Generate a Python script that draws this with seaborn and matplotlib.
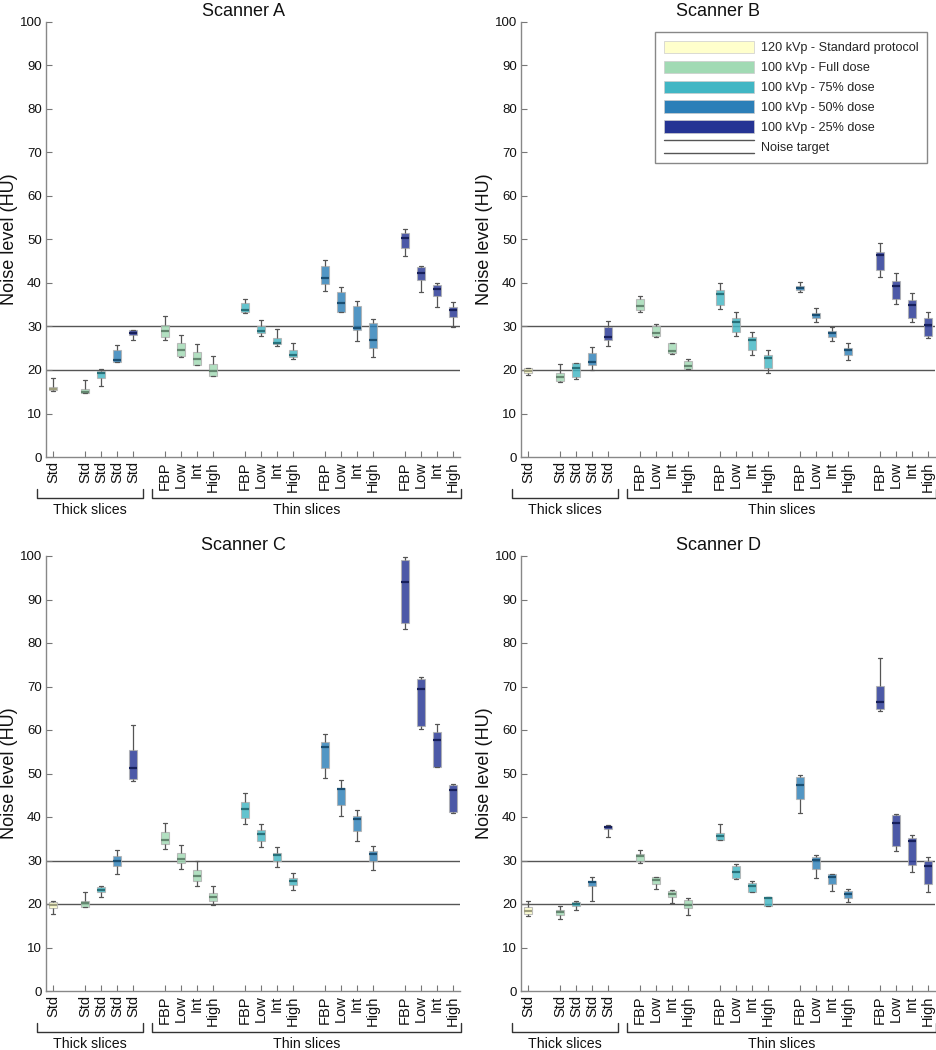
"""Noise level per scanner, protocol and reconstruction, as box plots."""
import matplotlib

matplotlib.use("Agg")
import matplotlib.colors as mcolors
import matplotlib.pyplot as plt
import matplotlib.transforms as mtransforms
import pandas as pd
import seaborn as sns
from matplotlib.legend_handler import HandlerBase
from matplotlib.lines import Line2D
from matplotlib.patches import Patch

# box positions on the x axis (gaps separate the groups)
positions = [0, 2, 3, 4, 5, 7, 8, 9, 10, 12, 13, 14, 15,
             17, 18, 19, 20, 22, 23, 24, 25]
tick_labels = ["Std", "Std", "Std", "Std", "Std",
               "FBP", "Low", "Int", "High", "FBP", "Low", "Int", "High",
               "FBP", "Low", "Int", "High", "FBP", "Low", "Int", "High"]
# dose group index of every box
box_groups = [0, 1, 2, 3, 4, 1, 1, 1, 1, 2, 2, 2, 2,
              3, 3, 3, 3, 4, 4, 4, 4]

dose_labels = ["120 kVp - Standard protocol", "100 kVp - Full dose",
               "100 kVp - 75% dose", "100 kVp - 50% dose",
               "100 kVp - 25% dose"]
dose_colors = ["#FFFFCC", "#A1DAB4", "#41B6C4", "#2C7FB8", "#253494"]

noise_targets = [20, 30]

# five-number summary per box: min, q1, median, q3, max
scanner_a = [
    (15.2, 15.3, 15.6, 16.2, 18.1), (14.8, 14.8, 15.0, 15.7, 17.7),
    (16.3, 18.2, 19.2, 19.8, 20.3), (21.8, 21.8, 22.2, 24.6, 25.7),
    (26.9, 28.1, 28.6, 29.2, 29.3), (26.8, 27.6, 28.9, 30.4, 32.5),
    (22.9, 23.2, 24.7, 26.2, 28.0), (21.1, 21.1, 22.6, 24.1, 26.0),
    (18.7, 18.7, 19.8, 21.3, 23.2), (33.0, 33.4, 33.7, 35.4, 36.4),
    (27.9, 28.5, 29.0, 30.2, 31.5), (25.6, 25.9, 26.3, 27.4, 29.5),
    (22.5, 23.0, 23.4, 24.7, 26.3), (38.2, 39.8, 41.2, 44.0, 45.4),
    (33.4, 33.4, 35.5, 37.9, 39.0), (26.6, 29.1, 29.7, 34.8, 35.8),
    (23.0, 25.0, 26.9, 30.7, 31.8), (46.2, 48.0, 50.3, 51.4, 52.3),
    (38.0, 40.6, 42.4, 43.6, 43.9), (34.4, 36.9, 38.6, 39.6, 39.9),
    (29.9, 32.2, 33.7, 34.5, 35.6),
]
scanner_b = [
    (18.8, 19.2, 19.7, 20.4, 20.5), (17.3, 17.5, 18.5, 19.4, 21.3),
    (18.0, 18.4, 20.5, 21.7, 21.7), (20.0, 21.2, 21.9, 24.0, 25.3),
    (25.6, 26.8, 27.5, 29.9, 31.3), (33.4, 33.7, 34.7, 36.4, 36.9),
    (27.6, 27.8, 28.5, 30.1, 30.5), (23.7, 23.9, 24.4, 26.1, 26.2),
    (20.2, 20.2, 20.9, 22.1, 22.6), (34.0, 35.0, 37.5, 38.3, 39.9),
    (27.8, 28.7, 31.0, 32.0, 33.3), (23.5, 24.6, 26.8, 27.6, 28.8),
    (19.4, 20.5, 22.7, 23.5, 24.5), (37.9, 38.3, 38.9, 39.4, 40.2),
    (31.1, 32.0, 32.6, 33.1, 34.2), (26.6, 27.6, 28.4, 29.0, 29.9),
    (22.4, 23.5, 24.5, 25.1, 26.3), (41.4, 43.0, 46.4, 47.1, 49.1),
    (35.2, 36.3, 39.4, 40.4, 42.2), (31.1, 32.0, 34.9, 36.0, 37.7),
    (27.4, 27.9, 30.3, 32.0, 33.4),
]
scanner_c = [
    (17.8, 19.1, 19.8, 20.4, 20.8), (19.2, 19.3, 20.2, 20.8, 22.7),
    (21.7, 22.7, 23.3, 23.9, 24.1), (26.9, 28.8, 30.0, 31.1, 32.3),
    (48.3, 48.8, 51.2, 55.4, 61.2), (32.6, 33.8, 34.8, 36.6, 38.6),
    (28.1, 29.5, 30.4, 31.8, 33.6), (24.2, 25.2, 26.4, 27.8, 29.8),
    (19.7, 20.6, 21.6, 22.5, 24.2), (38.4, 39.8, 41.9, 43.5, 45.6),
    (33.0, 34.5, 36.2, 37.0, 38.5), (28.5, 29.8, 31.3, 31.8, 33.2),
    (23.2, 24.3, 25.2, 26.0, 27.2), (48.9, 51.2, 56.0, 57.3, 59.1),
    (40.2, 42.7, 46.4, 46.7, 48.4), (34.4, 36.7, 39.5, 40.2, 41.6),
    (27.9, 29.8, 31.6, 32.2, 33.3), (83.2, 84.5, 94.0, 99.1, 99.8),
    (60.3, 60.9, 69.4, 71.8, 72.1), (51.4, 51.6, 57.8, 59.5, 61.4),
    (41.0, 41.2, 46.2, 47.3, 47.5),
]
scanner_d = [
    (17.2, 17.8, 18.5, 19.2, 20.8), (16.6, 17.5, 18.1, 18.7, 19.5),
    (18.7, 19.5, 20.1, 20.5, 20.6), (20.8, 24.1, 25.0, 25.3, 26.1),
    (35.4, 37.2, 37.7, 37.9, 38.1), (29.5, 30.0, 31.0, 31.6, 32.5),
    (23.5, 24.7, 25.5, 26.1, 26.2), (20.2, 21.6, 22.4, 23.0, 23.3),
    (17.5, 19.0, 19.8, 21.0, 21.4), (34.6, 34.6, 35.6, 36.4, 38.5),
    (25.8, 26.0, 27.3, 28.7, 29.2), (22.8, 22.8, 24.1, 24.8, 25.2),
    (19.6, 19.6, 21.4, 21.6, 21.7), (41.0, 44.1, 47.4, 49.1, 49.6),
    (25.9, 28.1, 30.2, 30.8, 31.2), (22.9, 24.7, 26.2, 26.8, 27.0),
    (20.5, 21.4, 22.3, 22.9, 23.4), (64.4, 64.9, 66.5, 70.2, 76.6),
    (32.1, 33.3, 38.7, 40.4, 40.6), (27.4, 28.9, 34.4, 35.2, 35.8),
    (22.7, 24.5, 28.8, 29.8, 30.8),
]
scanners = {"Scanner A": scanner_a, "Scanner B": scanner_b,
            "Scanner C": scanner_c, "Scanner D": scanner_d}


class TwoLineHandler(HandlerBase):
    """Legend key drawn as two horizontal lines (the two noise targets)."""

    def create_artists(self, legend, orig_handle, xdescent, ydescent,
                       width, height, fontsize, trans):
        x0, y0 = -xdescent, -ydescent
        return [Line2D([x0, x0 + width], [y, y], color=orig_handle.get_color(),
                       lw=orig_handle.get_linewidth(), transform=trans)
                for y in (y0, y0 + height)]


def long_table(summaries):
    rows = []
    for pos, grp, stats in zip(positions, box_groups, summaries):
        for v in stats:
            rows.append({"pos": pos, "group": grp, "noise": v})
    return pd.DataFrame(rows)


def bracket(ax, x0, x1, label):
    trans = mtransforms.blended_transform_factory(ax.transData, ax.transAxes)
    ax.plot([x0, x0, x1, x1], [-0.073, -0.095, -0.095, -0.073],
            transform=trans, clip_on=False, color="#333333", lw=1.0)
    ax.text((x0 + x1) / 2, -0.122, label, transform=trans, ha="center",
            va="center", fontsize=10.2, color="#111111")


def main():
    sns.set_style("ticks")
    plt.rcParams["font.family"] = ["Liberation Sans", "DejaVu Sans"]
    plt.rcParams["xtick.direction"] = "in"
    plt.rcParams["ytick.direction"] = "in"

    fig = plt.figure(figsize=(9.36, 10.5), dpi=100)
    lefts = [46 / 936, 521 / 936]
    bottoms = [1 - 457 / 1050, 1 - 991 / 1050]
    w, h = 414 / 936, 435 / 1050

    for i, (name, summaries) in enumerate(scanners.items()):
        ax = fig.add_axes([lefts[i % 2], bottoms[i // 2], w, h])
        df = long_table(summaries)

        for y in noise_targets:
            ax.axhline(y, color="#555555", lw=1.0, zorder=0.5)

        for g, col in enumerate(dose_colors):
            sub = df[df["group"] == g]
            dark = tuple(c * 0.62 for c in mcolors.to_rgb(col))
            sns.boxplot(data=sub, x="pos", y="noise", native_scale=True,
                        color=col, saturation=1, width=0.5, whis=(0, 100),
                        linewidth=0.8, fliersize=0, ax=ax,
                        boxprops=dict(alpha=0.82, edgecolor="#b0b0b0"),
                        medianprops=dict(color=dark, linewidth=1.6),
                        whiskerprops=dict(color="#555555", linewidth=0.9),
                        capprops=dict(color="#555555", linewidth=0.9))

        ax.set_xlim(-0.46, 25.46)
        ax.set_ylim(0, 100)
        ax.set_yticks(range(0, 101, 10))
        ax.set_xticks(positions, tick_labels, rotation=90)
        ax.tick_params(axis="x", labelsize=10.5, pad=3, length=4,
                       color="#777777", labelcolor="#111111")
        ax.tick_params(axis="y", labelsize=9.5, pad=3, length=4,
                       color="#777777", labelcolor="#111111")
        ax.set_xlabel("")
        ax.set_ylabel("Noise level (HU)", fontsize=13, color="#111111")
        ax.yaxis.set_label_coords(-0.068, 0.5)
        ax.set_title(name, fontsize=13, pad=4, x=0.477, color="#111111")
        sns.despine(ax=ax)
        for side in ("left", "bottom"):
            ax.spines[side].set_color("#888888")
            ax.spines[side].set_linewidth(1.0)

        bracket(ax, -1.0, 5.6, "Thick slices")
        bracket(ax, 6.2, 25.5, "Thin slices")

        if name == "Scanner B":
            handles = [Patch(facecolor=c, edgecolor="#cccccc", lw=0.5)
                       for c in dose_colors]
            target = Line2D([], [], color="#555555", lw=1.0)
            leg = ax.legend(handles + [target], dose_labels + ["Noise target"],
                            loc="upper right", bbox_to_anchor=(0.9904, 0.9695),
                            bbox_transform=fig.transFigure, borderaxespad=0,
                            fontsize=9.1, handlelength=7.1, handleheight=1.15,
                            labelspacing=0.5, handletextpad=0.55,
                            borderpad=0.7, fancybox=False, framealpha=1,
                            edgecolor="#888888",
                            handler_map={Line2D: TwoLineHandler()})
            leg.get_frame().set_linewidth(1.0)

    fig.savefig("out.png", dpi=100)
    return 0


if __name__ == "__main__":
    raise SystemExit(main())
